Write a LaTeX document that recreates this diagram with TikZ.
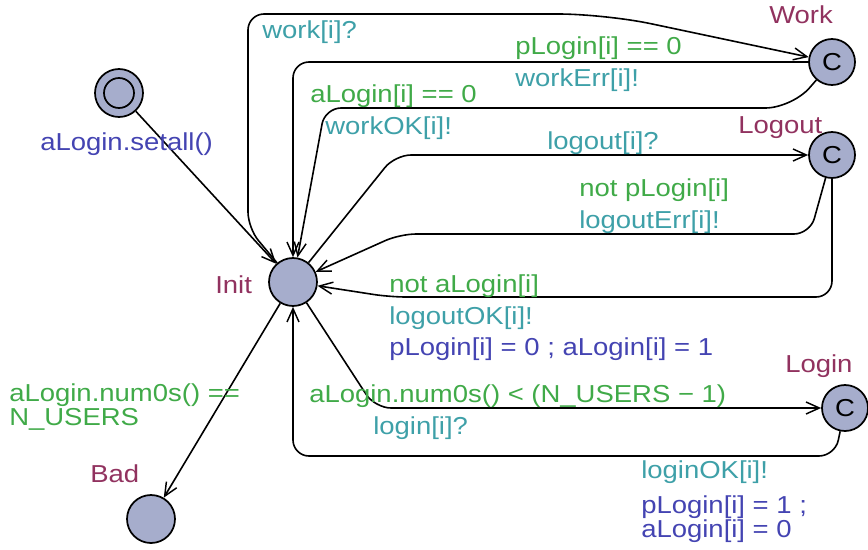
\documentclass[tikz,border=0pt]{standalone}
\usepackage{fontspec}
\setmainfont{Liberation Sans}[FakeStretch=1.12]
\usetikzlibrary{arrows.meta}
\definecolor{locname}{RGB}{145,50,95}
\definecolor{guardcol}{RGB}{64,170,72}
\definecolor{synccol}{RGB}{62,160,168}
\definecolor{updcol}{RGB}{68,68,178}
\definecolor{locfill}{RGB}{166,173,204}
\tikzset{
    location/.style={
           circle,
           draw=black, line width=1.3pt,
           fill=locfill,
           minimum size=36pt,
           inner sep=0pt,
           font=\fontsize{18.4pt}{18.4pt}\selectfont,
           },
    committed/.style={location, minimum size=34.5pt},
    trans/.style={
           -{Straight Barb[length=10pt,width=9pt,line width=1.1pt]},
           line width=1.2pt,
           rounded corners=12pt,
           },
    lbl/.style={anchor=base west, inner sep=0pt, align=left,
           font=\fontsize{18.4pt}{17.3pt}\selectfont},
    locationlbl/.style={lbl, text=locname},
    guardlbl/.style={lbl, text=guardcol},
    synclbl/.style={lbl, text=synccol},
    updatelbl/.style={lbl, text=updcol},
}
\begin{document}
\begin{tikzpicture}[x=0.75pt,y=-0.75pt]
    \useasboundingbox (0,0) rectangle (868,550);

    % locations
    \node[location] (start) at (119,93) {};
    \node[circle, draw=black, line width=1.3pt, minimum size=22.5pt, inner sep=0pt] (startin) at (start) {};
    \node[location] (init) at (293,282) {};
    \node[committed] (work) at (832,62) {C};
    \node[committed] (logout) at (832,155) {C};
    \node[committed] (login) at (845,408) {C};
    \node[location] (bad) at (151,519) {};

    % location names
    \node[locationlbl] (initname) at (215,293) {Init};
    \node[locationlbl] (workname) at (769,23) {Work};
    \node[locationlbl] (logoutname) at (738,133) {Logout};
    \node[locationlbl] (loginname) at (785,372) {Login};
    \node[locationlbl] (badname) at (90,482) {Bad};

    % transitions
    \draw[trans] (start) -- (init);
    \draw[trans] (init) -- (248,228) -- (248,14) [rounded corners=35pt] -- (605,14) -- (work);
    \draw[trans] (work) -- (293,62) -- (init);
    \draw[trans] (work) [rounded corners=20pt] -- (792,108) [rounded corners=12pt] -- (325,108) -- (init);
    \draw[trans] (init) -- (395,155) -- (logout);
    \draw[trans] (logout) -- (810,234) -- (400,234) -- (init);
    \draw[trans] (logout) -- (832,297) -- (390,297) -- (init);
    \draw[trans] (init) -- (375,408) -- (login);
    \draw[trans] (login) -- (835,456) -- (293,456) -- (init);
    \draw[trans] (init) -- (bad);

    % labels of the transitions
    \node[updatelbl] (setall) at (40,150) {aLogin.setall()};
    \node[synclbl] (workin) at (262,38) {work[i]?};
    \node[guardlbl] (workerrg) at (515,54) {pLogin[i] == 0};
    \node[synclbl] (workerrs) at (515,86) {workErr[i]!};
    \node[guardlbl] (workokg) at (310,102) {aLogin[i] == 0};
    \node[synclbl] (workoks) at (325,134) {workOK[i]!};
    \node[synclbl] (logoutin) at (547,149) {logout[i]?};
    \node[guardlbl] (logerrg) at (579,196) {not pLogin[i]};
    \node[synclbl] (logerrs) at (579,228) {logoutErr[i]!};
    \node[guardlbl] (logokg) at (389,292) {not aLogin[i]};
    \node[synclbl] (logoks) at (389,324) {logoutOK[i]!};
    \node[updatelbl] (logoku) at (389,355) {pLogin[i] = 0 ; aLogin[i] = 1};
    \node[guardlbl] (badg) at (9,425) {aLogin.num0s() ==\\N\_USERS};
    \node[guardlbl] (loging) at (309,402) {aLogin.num0s() < (N\_USERS − 1)};
    \node[synclbl] (logins) at (373,434) {login[i]?};
    \node[synclbl] (loginoks) at (641,478) {loginOK[i]!};
    \node[updatelbl] (loginoku) at (641,537) {pLogin[i] = 1 ;\\aLogin[i] = 0};
\end{tikzpicture}
\end{document}
